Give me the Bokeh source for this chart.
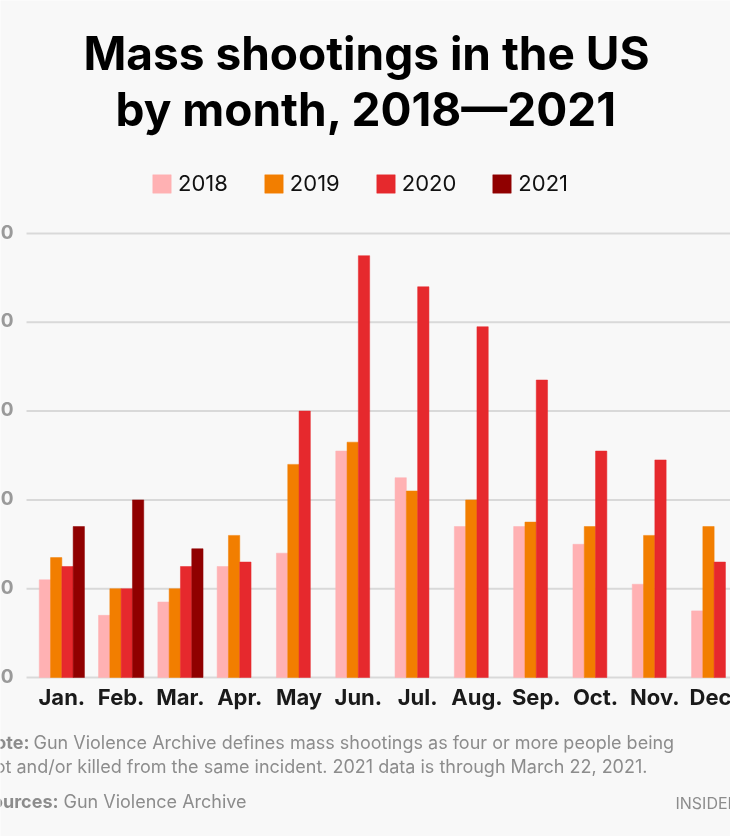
from bokeh.plotting import figure
from bokeh.models import Range1d, Legend, LegendItem
from bokeh.core.properties import value
from bokeh.embed import file_html
from bokeh.resources import INLINE

# ---- data ----
months = ["Jan.", "Feb.", "Mar.", "Apr.", "May", "Jun.", "Jul.", "Aug.", "Sep.", "Oct.", "Nov.", "Dec."]
years = ["2018", "2019", "2020", "2021"]
y2018 = [22, 14, 17, 25, 28, 51, 45, 34, 34, 30, 21, 15]
y2019 = [27, 20, 20, 32, 48, 53, 42, 40, 35, 34, 32, 34]
y2020 = [25, 20, 25, 26, 60, 95, 88, 79, 67, 51, 49, 26]
y2021 = [34, 40, 29]
yticks = [0, 20, 40, 60, 80, 100]
ytick_labels = ["0", "20", "40", "60", "80", "100"]
colors = ["#ffb1b3", "#f27e00", "#e6292d", "#900000"]

W, H = 730, 836
BG = "#f8f8f8"

# pixel <-> data helpers (layout only)
GX0, GDX = 61.35, 59.3     # group centre of Jan, group pitch (px)
BASE, PPU = 677.0, 4.44    # baseline px, px per unit


def X(px):
    return (px - GX0) / GDX


def Y(py):
    return (BASE - py) / PPU


p = figure(width=W, height=H, output_backend="svg", toolbar_location=None,
           x_range=Range1d(X(0), X(W)), y_range=Range1d(Y(H), Y(0)),
           x_axis_type=None, y_axis_type=None, min_border=0,
           background_fill_color=BG, border_fill_color=BG, outline_line_color=None)
p.xgrid.visible = False
p.ygrid.visible = False
p.styles = {"position": "fixed", "left": "0px", "top": "0px"}

FONT = value("Inter")

# gridlines
p.segment(x0=X(26), x1=X(W), y0=yticks, y1=yticks, line_color="#d9d9d9", line_width=2)

# bars
bw = 11.3 / GDX
series = [y2018, y2019, y2020, y2021]
renderers = []
for j, (vals, c) in enumerate(zip(series, colors)):
    xs = [i + (j - 1.5) * bw for i in range(len(vals))]
    r = p.vbar(x=xs, top=vals, bottom=0, width=bw, fill_color=c,
               line_color=c, line_width=0.5)
    renderers.append(r)

# y tick labels
p.text(x=[X(13)] * len(yticks), y=yticks, text=ytick_labels, text_align="right",
       text_baseline="middle", y_offset=-2, text_font=FONT, text_font_style="bold",
       text_font_size="19px", text_color="#9a9a9a")

# month labels
p.text(x=list(range(len(months))), y=[Y(696)] * len(months), text=months,
       text_align="center", text_baseline="middle", text_font=FONT,
       text_font_style="bold", text_font_size="22px", text_color="#1a1a1a")

# title
p.text(x=[X(366), X(366)], y=[Y(52), Y(108)],
       text=["Mass shootings in the US", "by month, 2018\u20142021"],
       text_align="center", text_baseline="middle", text_font=FONT,
       text_font_style="bold", text_font_size="46px", text_color="#000000")

# notes
NOTE_C = "#8c8c8c"
p.text(x=[X(29), X(58)], y=[Y(742), Y(801)], text=["Note:", "Sources:"],
       text_align="right", text_baseline="middle", text_font=FONT,
       text_font_style="bold", text_font_size="18px", text_color=NOTE_C)
p.text(x=[X(33), X(-26), X(63)], y=[Y(742), Y(766), Y(801)],
       text=["Gun Violence Archive defines mass shootings as four or more people being",
             "shot and/or killed from the same incident. 2021 data is through March 22, 2021.",
             "Gun Violence Archive"],
       text_align="left", text_baseline="middle", text_font=FONT,
       text_font_size="18px", text_color=NOTE_C)
p.text(x=[X(675)], y=[Y(802)], text=["INSIDER"], text_align="left",
       text_baseline="middle", text_font=FONT, text_font_size="16px",
       text_color="#8c8c8c")

# legend
legend = Legend(items=[LegendItem(label=y, renderers=[r]) for y, r in zip(years, renderers)],
                orientation="horizontal", location=(150, H - 196),
                glyph_width=23, glyph_height=23, label_standoff=5, spacing=34,
                padding=0, margin=0, border_line_color=None, background_fill_alpha=0,
                label_text_font="Inter", label_text_font_size="22px",
                label_text_color="#111111")
p.add_layout(legend, "center")

open("out.html", "w").write(file_html(p, INLINE))
